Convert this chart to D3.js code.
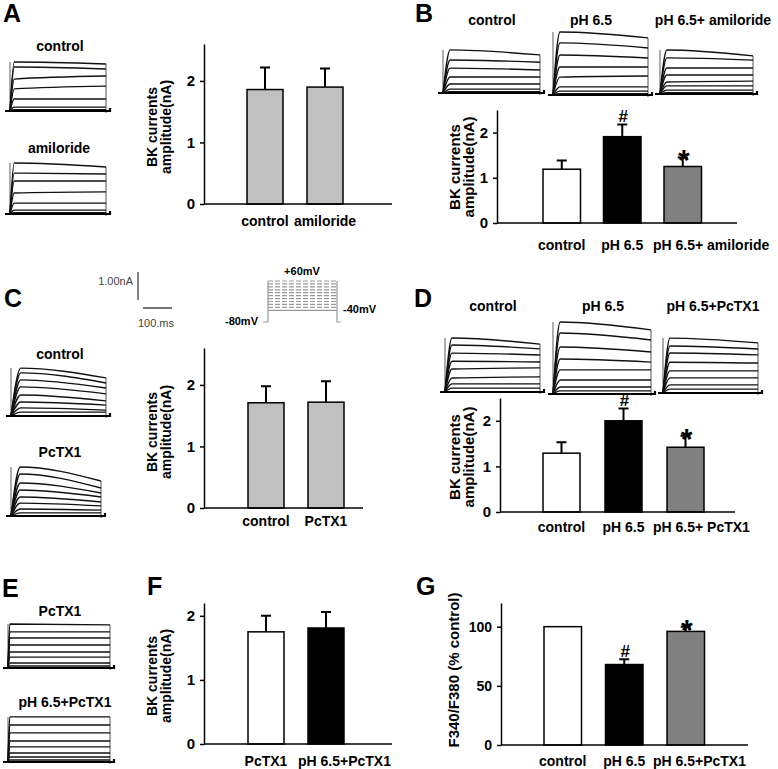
<!DOCTYPE html>
<html>
<head>
<meta charset="utf-8">
<script src="https://cdn.jsdelivr.net/npm/d3@7"></script>
<style>
  body { margin: 0; background: #fff; }
  text { font-family: "Liberation Sans", Arial, sans-serif; }
</style>
</head>
<body>
<svg id="fig" width="778" height="769"></svg>
<script>
const svg = d3.select('#fig')

// ---- bar chart data (mean, upper SEM) ----
const catsA = ['control', 'amiloride']
const meanA = [1.86, 1.90]
const errA = [0.36, 0.30]

const catsB = ['control', 'pH 6.5', 'pH 6.5+ amiloride']
const meanB = [1.19, 1.91, 1.25]
const errB = [0.19, 0.27, 0.20]

const catsC = ['control', 'PcTX1']
const meanC = [1.71, 1.72]
const errC = [0.27, 0.34]

const catsD = ['control', 'pH 6.5', 'pH 6.5+ PcTX1']
const meanD = [1.29, 2.0, 1.42]
const errD = [0.24, 0.27, 0.25]

const catsF = ['PcTX1', 'pH 6.5+PcTX1']
const meanF = [1.75, 1.81]
const errF = [0.25, 0.25]

const catsG = ['control', 'pH 6.5', 'pH 6.5+PcTX1']
const meanG = [100, 68, 96]
const errG = [0, 4.5, 4]

const ticksNA = [0, 1, 2]
const ticksG = [0, 50, 100]
const marks3 = ['', '#', '*']

// ---- current traces: [amplitude after rise, amplitude at end] in nA ----
const trA1 = [[1.75, 1.68], [1.57, 1.5], [1.14, 1.25], [0.79, 0.89], [0.43, 0.43], [0.14, 0.14], [0.05, 0.05]]
const trA2 = [[1.82, 1.68], [1.46, 1.43], [1.18, 1.18], [0.75, 0.79], [0.39, 0.39], [0.14, 0.14], [0.05, 0.05]]
const trB1 = [[1.54, 1.36], [1.18, 1.1], [0.89, 0.82], [0.57, 0.57], [0.32, 0.32], [0.14, 0.14], [0.05, 0.05]]
const trB2 = [[2.25, 2.04], [1.86, 1.68], [1.43, 1.32], [1.0, 1.0], [0.64, 0.68], [0.29, 0.29], [0.14, 0.14], [0.05, 0.05]]
const trB3 = [[1.57, 1.36], [1.29, 1.21], [0.93, 0.93], [0.68, 0.68], [0.43, 0.46], [0.29, 0.29], [0.14, 0.14], [0.05, 0.05]]
const trC1 = [[1.71, 1.36], [1.54, 1.18], [1.29, 1.0], [1.04, 0.79], [0.75, 0.54], [0.5, 0.39], [0.29, 0.21], [0.14, 0.14]]
const trC2 = [[1.75, 1.25], [1.5, 1.0], [1.18, 0.82], [0.93, 0.68], [0.68, 0.5], [0.46, 0.36], [0.25, 0.21], [0.11, 0.11]]
const trD1 = [[1.93, 1.71], [1.68, 1.54], [1.39, 1.32], [1.1, 1.07], [0.82, 0.86], [0.5, 0.54], [0.29, 0.29], [0.14, 0.14]]
const trD2 = [[2.57, 2.29], [2.18, 1.93], [1.68, 1.5], [1.25, 1.14], [0.86, 0.86], [0.5, 0.5], [0.25, 0.25], [0.11, 0.11]]
const trD3 = [[1.96, 1.79], [1.68, 1.57], [1.43, 1.36], [1.1, 1.07], [0.79, 0.79], [0.54, 0.54], [0.29, 0.29], [0.14, 0.14]]
const trE1 = [[1.57, 1.54], [1.29, 1.29], [1.07, 1.07], [0.82, 0.82], [0.57, 0.57], [0.39, 0.39], [0.18, 0.18], [0.07, 0.07]]
const trE2 = [[1.61, 1.61], [1.32, 1.32], [1.04, 1.04], [0.75, 0.75], [0.54, 0.54], [0.32, 0.32], [0.18, 0.18], [0.07, 0.07]]

// voltage protocol steps (mV)
const steps = [-40, -30, -20, -10, 0, 10, 20, 30, 40, 50, 60]
const traceDur = 340 // ms

const pxPerNA = 28 // from the 1.00 nA scale bar

function drawTraces (x0, x1, base, data, tPeak) {
  const x = d3.scaleLinear().domain([0, traceDur]).range([x0, x1])
  const y = d3.scaleLinear().domain([0, 1]).range([base, base - pxPerNA])
  const line = d3.line().x(d => x(d[0])).y(d => y(d[1])).curve(d3.curveMonotoneX)
  const g = svg.append('g')
  g.append('line')
    .attr('x1', x(0)).attr('x2', x(0)).attr('y1', base).attr('y2', y(data[0][0]))
    .attr('stroke', '#777').attr('stroke-width', 1.2)
  g.append('line')
    .attr('x1', x(traceDur)).attr('x2', x(traceDur)).attr('y1', base + 2).attr('y2', y(data[0][1]))
    .attr('stroke', '#555').attr('stroke-width', 1)
  g.selectAll('path.tr').data(data).join('path')
    .attr('class', 'tr')
    .attr('d', d => line([[0, 0], [tPeak, d[0]], [traceDur, d[1]]]))
    .attr('fill', 'none')
    .attr('stroke', '#111')
    .attr('stroke-width', 1.4)
  g.append('path')
    .attr('d', `M${x0 - 5},${base}H${x1 + 4}v-3`)
    .attr('fill', 'none').attr('stroke', '#000').attr('stroke-width', 2.2)
}

function barChart (o) {
  const n = o.cats.length
  const pi = 1 - o.bw / o.step
  const po = 0.2
  const r0 = o.left - po * o.step
  const x = d3.scaleBand().domain(o.cats)
    .range([r0, r0 + o.step * (n - pi + 2 * po)])
    .paddingInner(pi).paddingOuter(po)
  const y = d3.scaleLinear().domain([0, o.max]).range([o.y0, o.top])
  const g = svg.append('g')

  // error bars (upper only)
  o.cats.forEach((c, i) => {
    if (!o.err[i]) return
    const cx = x(c) + x.bandwidth() / 2
    const yt = y(o.mean[i] + o.err[i])
    g.append('path')
      .attr('d', `M${cx},${y(o.mean[i])}V${yt}M${cx - 5},${yt}H${cx + 5}`)
      .attr('stroke', '#000').attr('stroke-width', 2).attr('fill', 'none')
    if (o.marks && o.marks[i]) {
      const star = o.marks[i] === '*'
      g.append('text')
        .attr('x', cx + 1)
        .attr('y', star ? yt + 13 : yt - 2)
        .attr('text-anchor', 'middle')
        .attr('font-weight', 'bold')
        .attr('font-size', star ? 30 : 17)
        .text(o.marks[i])
    }
  })

  g.selectAll('rect').data(o.cats).join('rect')
    .attr('x', d => x(d))
    .attr('width', x.bandwidth())
    .attr('y', (d, i) => y(o.mean[i]))
    .attr('height', (d, i) => y(0) - y(o.mean[i]))
    .attr('fill', (d, i) => o.fill[i])
    .attr('stroke', '#000')
    .attr('stroke-width', 1.5)

  const ax = g.append('g')
    .attr('transform', `translate(${o.axisX},0)`)
    .call(d3.axisLeft(y).tickValues(o.ticks).tickFormat(d3.format('d'))
      .tickSize(4).tickSizeOuter(0).tickPadding(5))
  ax.select('.domain').attr('stroke-width', 1.5)
  ax.selectAll('.tick line').attr('stroke-width', 1.5)
  ax.selectAll('text')
    .attr('font-size', o.tickFont || 15)
    .attr('font-weight', 'bold')
    .attr('font-family', '"Liberation Sans", Arial, sans-serif')
    .attr('fill', '#000')

  g.append('line')
    .attr('x1', o.axisX).attr('x2', o.axisEnd)
    .attr('y1', o.y0).attr('y2', o.y0)
    .attr('stroke', '#000').attr('stroke-width', 1.5)

  g.selectAll('text.cat').data(o.cats).join('text')
    .attr('class', 'cat')
    .attr('x', (d, i) => o.startLabel && o.startLabel[0] === i
      ? x(d) + o.startLabel[1]
      : x(d) + x.bandwidth() / 2)
    .attr('y', o.labelY)
    .attr('text-anchor', (d, i) => o.startLabel && o.startLabel[0] === i ? 'start' : 'middle')
    .attr('font-weight', 'bold')
    .attr('font-size', 14)
    .text(d => d)

  o.title.forEach((t, i) => {
    g.append('text')
      .attr('transform', `translate(${o.titleX[i]},${o.titleY}) rotate(-90)`)
      .attr('text-anchor', 'middle')
      .attr('font-weight', 'bold')
      .attr('font-size', o.titleFont)
      .text(t)
  })
}

const bkTitle = ['BK currents', 'amplitude(nA)']
const gray = '#c0c0c0'
const dark = '#808080'

barChart({ cats: catsA, mean: meanA, err: errA, fill: [gray, gray], ticks: ticksNA,
  axisX: 204, axisEnd: 392, y0: 204, top: 44, max: 2.6, left: 247, step: 60, bw: 36,
  labelY: 226, title: bkTitle, titleX: [157, 171], titleY: 127, titleFont: 14 })

barChart({ cats: catsB, mean: meanB, err: errB, fill: ['#fff', '#000', dark], ticks: ticksNA, marks: marks3,
  axisX: 497, axisEnd: 737, y0: 223, top: 110, max: 2.5, left: 543, step: 60.5, bw: 37.5,
  labelY: 250, startLabel: [2, -11], title: bkTitle, titleX: [460, 474], titleY: 167, titleFont: 15 })

barChart({ cats: catsC, mean: meanC, err: errC, fill: [gray, gray], ticks: ticksNA,
  axisX: 204, axisEnd: 363, y0: 508, top: 348, max: 2.6, left: 248, step: 60, bw: 36,
  labelY: 526, title: bkTitle, titleX: [157, 171], titleY: 432, titleFont: 14 })

barChart({ cats: catsD, mean: meanD, err: errD, fill: ['#fff', '#000', dark], ticks: ticksNA, marks: marks3,
  axisX: 500, axisEnd: 735, y0: 512, top: 398, max: 2.5, left: 543, step: 62, bw: 37,
  labelY: 532, startLabel: [2, -14], title: bkTitle, titleX: [460, 474], titleY: 457, titleFont: 15 })

barChart({ cats: catsF, mean: meanF, err: errF, fill: ['#fff', '#000'], ticks: ticksNA,
  axisX: 204, axisEnd: 392, y0: 744, top: 603, max: 2.2, left: 248, step: 60, bw: 36,
  labelY: 766, startLabel: [1, -10], title: bkTitle, titleX: [157, 171], titleY: 676, titleFont: 14 })

barChart({ cats: catsG, mean: meanG, err: errG, fill: ['#fff', '#000', dark], ticks: ticksG, marks: marks3,
  axisX: 501, axisEnd: 748, y0: 745, top: 603, max: 120, left: 544, step: 61.5, bw: 37.5, tickFont: 14,
  labelY: 766, startLabel: [2, -14], title: ['F340/F380 (% control)'], titleX: [459], titleY: 670, titleFont: 15 })

// traces
drawTraces(10, 106, 111, trA1, 15)
drawTraces(10, 106, 214, trA2, 15)
drawTraces(443, 540, 93, trB1, 25)
drawTraces(553, 648, 95, trB2, 25)
drawTraces(660, 753, 94, trB3, 25)
drawTraces(11, 106, 416, trC1, 35)
drawTraces(11, 101, 516, trC2, 35)
drawTraces(445, 540, 392, trD1, 25)
drawTraces(553, 651, 394, trD2, 25)
drawTraces(663, 758, 393, trD3, 25)
drawTraces(8, 110, 668, trE1, 6)
drawTraces(8, 110, 762, trE2, 6)

// trace titles
const traceTitles = [
  ['control', 60, 51], ['amiloride', 59, 153],
  ['control', 492, 25], ['pH 6.5', 591, 25], ['pH 6.5+ amiloride', 713, 25],
  ['control', 60, 359], ['PcTX1', 60, 457],
  ['control', 493, 311], ['pH 6.5', 603, 311], ['pH 6.5+PcTX1', 713, 311],
  ['PcTX1', 60, 616], ['pH 6.5+PcTX1', 65, 707]
]
svg.selectAll('text.tt').data(traceTitles).join('text')
  .attr('class', 'tt')
  .attr('x', d => d[1]).attr('y', d => d[2])
  .attr('text-anchor', 'middle')
  .attr('font-weight', 'bold')
  .attr('font-size', 14)
  .text(d => d[0])

// panel letters
const letters = [['A', 3, 22], ['B', 415, 22], ['C', 4, 307], ['D', 414, 307], ['E', 2, 597], ['F', 147, 595], ['G', 416, 595]]
svg.selectAll('text.pl').data(letters).join('text')
  .attr('class', 'pl')
  .attr('x', d => d[1]).attr('y', d => d[2])
  .attr('font-weight', 'bold')
  .attr('font-size', 25)
  .text(d => d[0])

// scale bar
const sb = svg.append('g')
const sbY = d3.scaleLinear().domain([0, 1]).range([300, 300 - pxPerNA])
const sbX = d3.scaleLinear().domain([0, 100]).range([143, 172])
sb.append('line').attr('x1', 138).attr('x2', 138).attr('y1', sbY(0)).attr('y2', sbY(1))
  .attr('stroke', '#444').attr('stroke-width', 1.3)
sb.append('line').attr('x1', sbX(0)).attr('x2', sbX(100)).attr('y1', 308).attr('y2', 308)
  .attr('stroke', '#666').attr('stroke-width', 1.8)
sb.append('text').attr('x', 133).attr('y', 285).attr('text-anchor', 'end')
  .attr('font-size', 11).attr('fill', '#444').text('1.00nA')
sb.append('text').attr('x', 156).attr('y', 327).attr('text-anchor', 'middle')
  .attr('font-size', 11).attr('fill', '#444').text('100.ms')

// voltage protocol
const vp = svg.append('g')
const vY = d3.scaleLinear().domain([-80, 60]).range([322, 281])
const vx0 = 268
const vx1 = 337
vp.append('path')
  .attr('d', `M263,${vY(-80)}H${vx0}V${vY(60)}M${vx1},${vY(60)}V${vY(-80)}H341`)
  .attr('fill', 'none').attr('stroke', '#999').attr('stroke-width', 1.2)
vp.selectAll('line.st').data(steps).join('line')
  .attr('class', 'st')
  .attr('x1', vx0).attr('x2', vx1)
  .attr('y1', d => vY(d)).attr('y2', d => vY(d))
  .attr('stroke', '#999').attr('stroke-width', 1.2)
  .attr('stroke-dasharray', d => d === -40 ? null : '5,2')
const vLabels = [['+60mV', 302, 275, 'middle'], ['-40mV', 343, 313, 'start'], ['-80mV', 258, 325, 'end']]
vp.selectAll('text').data(vLabels).join('text')
  .attr('x', d => d[1]).attr('y', d => d[2])
  .attr('text-anchor', d => d[3])
  .attr('font-size', 11).attr('font-weight', 'bold')
  .text(d => d[0])
</script>
</body>
</html>
